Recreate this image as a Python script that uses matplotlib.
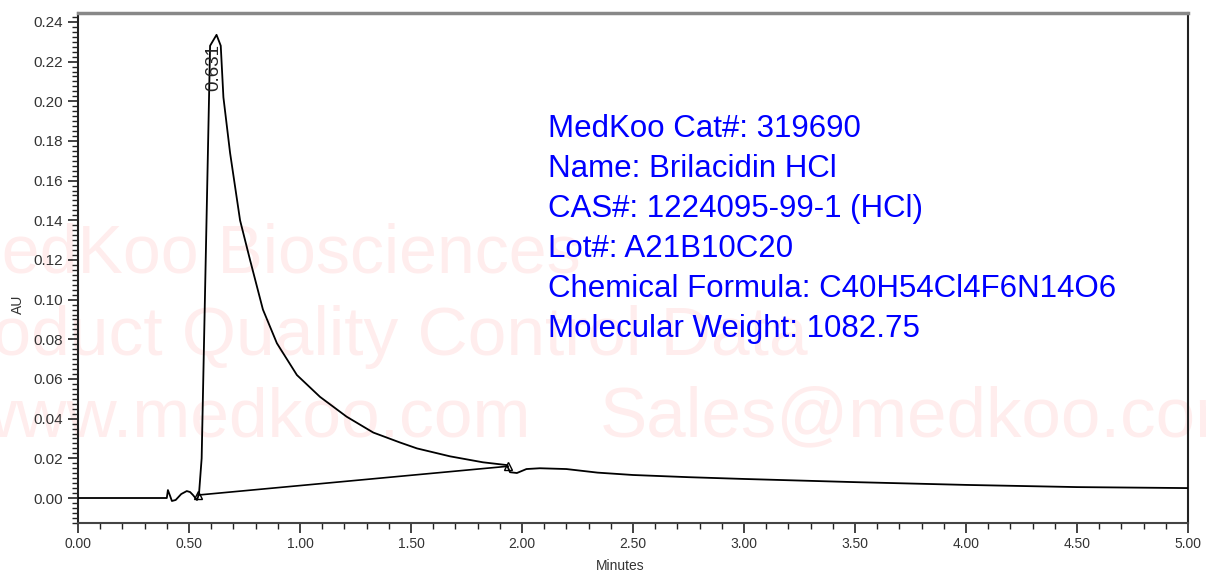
import numpy as np
import matplotlib
matplotlib.use("Agg")
import matplotlib.pyplot as plt
from matplotlib.ticker import MultipleLocator, FormatStrFormatter

plt.rcParams["font.family"] = ["Liberation Sans", "DejaVu Sans"]

# chromatogram trace (minutes, AU)
times = [0.00, 0.20, 0.40, 0.405, 0.415, 0.423, 0.44, 0.465, 0.49, 0.505,
         0.518, 0.536, 0.545, 0.557, 0.595, 0.624, 0.643,
         0.655, 0.685, 0.73, 0.775, 0.833, 0.896, 0.986, 1.09, 1.21,
         1.33, 1.45, 1.527, 1.676, 1.824, 1.932, 1.946, 1.977, 2.02, 2.08,
         2.2, 2.34, 2.5, 2.75, 3.0, 3.5, 4.0, 4.5, 5.0]
absorb = [0.000, 0.000, 0.000, 0.004, 0.001, -0.0015, -0.001, 0.002, 0.0035, 0.003,
          0.0015, -0.001, 0.002, 0.020, 0.228, 0.2335, 0.228,
          0.202, 0.174, 0.140, 0.120, 0.095, 0.078, 0.062, 0.051, 0.041,
          0.033, 0.028, 0.025, 0.021, 0.018, 0.0166, 0.013, 0.0126, 0.0146, 0.015,
          0.0146, 0.0128, 0.0116, 0.0105, 0.0096, 0.008, 0.0066, 0.0055, 0.005]

# integration baseline end points
base_times = [0.541, 1.937]
base_vals = [0.0015, 0.016]

peak_time = 0.631
peak_label = "0.631"

info_lines = [
    "MedKoo Cat#: 319690",
    "Name: Brilacidin HCl",
    "CAS#: 1224095-99-1 (HCl)",
    "Lot#: A21B10C20",
    "Chemical Formula: C40H54Cl4F6N14O6",
    "Molecular Weight: 1082.75",
]

fig = plt.figure(figsize=(12.06, 5.74), dpi=100, facecolor="white")
ax = fig.add_axes([78 / 1206, 51 / 574, 1110 / 1206, 510 / 574])

# watermark
wm = "#FFEDED"
ax.text(-0.046, 0.526, "MedKoo Biosciences", transform=fig.transFigure, fontsize=49,
        color=wm, zorder=0.5, clip_on=False)
ax.text(-0.064, 0.381, "Product Quality Control Data", transform=fig.transFigure, fontsize=50,
        color=wm, zorder=0.5, clip_on=False)
ax.text(-0.028, 0.239, "www.medkoo.com", transform=fig.transFigure, fontsize=50,
        color=wm, zorder=0.5, clip_on=False)
ax.text(0.4975, 0.239, "Sales@medkoo.com", transform=fig.transFigure, fontsize=51,
        color=wm, zorder=0.5, clip_on=False)

ax.plot(times, absorb, color="black", lw=1.3, zorder=3)
ax.plot(base_times, base_vals, color="black", lw=1.2, zorder=3)
ax.plot(base_times, base_vals, linestyle="none", marker="^", ms=6, mfc="none",
        mec="black", mew=1.0, zorder=4)
ax.text(peak_time - 0.02, 0.229, peak_label, rotation=90, ha="center", va="top",
        fontsize=13.5, color="#222222", zorder=5)

for i, line in enumerate(info_lines):
    ax.text(548 / 1206, (574 - 129 - 40 * i) / 574, line, transform=fig.transFigure,
            fontsize=22.5, color="#0000FF", va="center", ha="left", zorder=6)

ax.set_xlim(0, 5)
ax.set_ylim(-0.0126, 0.2445)
ax.xaxis.set_major_locator(MultipleLocator(0.5))
ax.xaxis.set_minor_locator(MultipleLocator(0.1))
ax.yaxis.set_major_locator(MultipleLocator(0.02))
ax.yaxis.set_minor_locator(MultipleLocator(0.0025))
ax.xaxis.set_major_formatter(FormatStrFormatter("%.2f"))
ax.yaxis.set_major_formatter(FormatStrFormatter("%.2f"))
ax.tick_params(which="major", direction="out", length=7, width=1.2,
               labelcolor="#333333", color="#222222")
ax.tick_params(which="minor", direction="out", length=4, width=1.0, color="#222222")
ax.tick_params(axis="x", which="both", pad=3, labelsize=10)
ax.tick_params(axis="y", which="both", labelsize=11)

ax.spines["left"].set_color("#222222")
ax.spines["left"].set_linewidth(1.5)
ax.spines["bottom"].set_color("#444444")
ax.spines["bottom"].set_linewidth(1.5)
ax.spines["right"].set_color("#222222")
ax.spines["right"].set_linewidth(1.5)
ax.spines["top"].set_color("#888888")
ax.spines["top"].set_linewidth(2.5)

fig.text(620 / 1206, 8 / 574, "Minutes", ha="center", va="center", fontsize=10, color="#333333")
fig.text(18 / 1206, 270 / 574, "AU", ha="center", va="center", rotation=90, fontsize=10,
         color="#333333")

fig.savefig("out.png", dpi=100, facecolor="white")
